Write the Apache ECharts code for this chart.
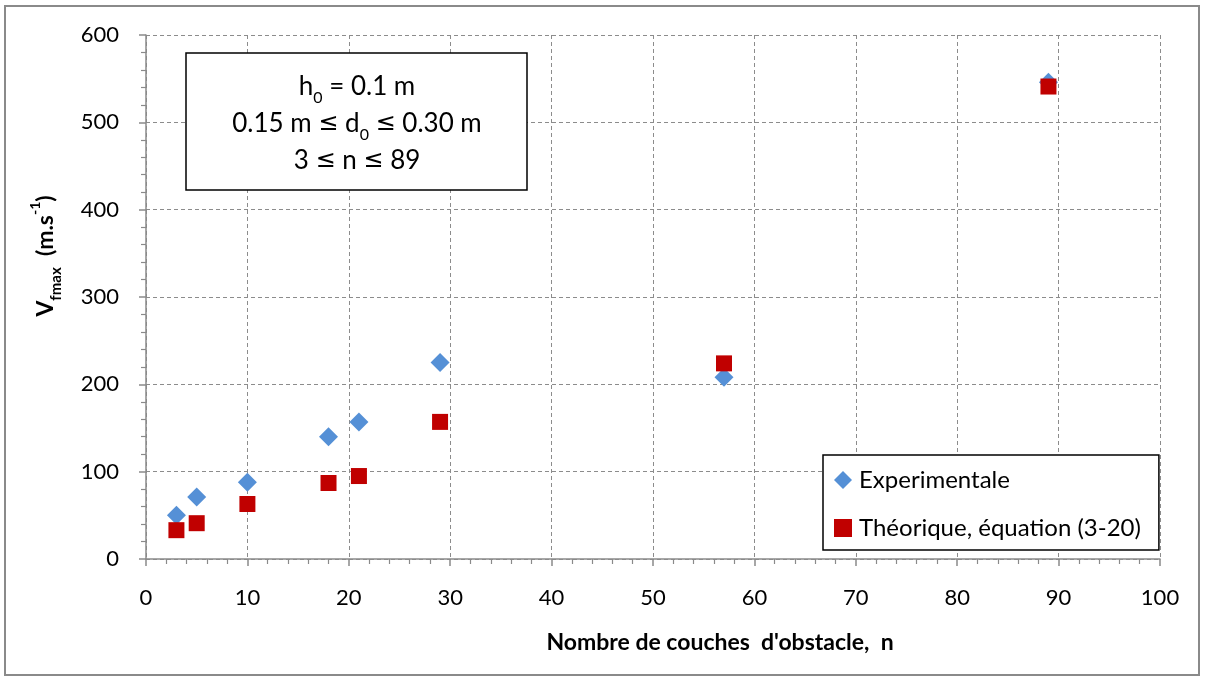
<!DOCTYPE html>
<html>
<head>
<meta charset="utf-8">
<script src="https://cdn.jsdelivr.net/npm/echarts@6/dist/echarts.min.js"></script>
<style>
  html, body { margin: 0; padding: 0; background: #fff; }
  #chart { width: 1205px; height: 680px; }
</style>
</head>
<body>
<div id="chart"></div>
<script>
// Number of obstacle layers n and maximum flame speed values
const layersN = [3, 5, 10, 18, 21, 29, 57, 89];
const experimental = [50, 71, 88, 140, 157, 225, 208, 546];
const theoretical = [33, 41, 63, 87, 95, 157, 224, 541];
const seriesNames = ['Experimentale', 'Théorique, équation (3-20)'];
const xTicks = { min: 0, max: 100, step: 10 };
const yTicks = { min: 0, max: 600, step: 100 };

const FONT = 'Lato, "Open Sans", sans-serif';
const GRID = { left: 146, top: 35, width: 1014, height: 524 };

const chart = echarts.init(document.getElementById('chart'), null, { renderer: 'canvas' });

const pairs = (ys) => layersN.map((x, i) => [x, ys[i]]);

const axisCommon = {
  axisLine: { show: true, onZero: false, lineStyle: { color: '#8a8a8a', width: 1.5 } },
  axisTick: { show: true, length: 7, lineStyle: { color: '#8a8a8a', width: 1.5 } },
  minorTick: { show: true, splitNumber: 5, length: 5, lineStyle: { color: '#8a8a8a', width: 1.2 } },
  splitLine: { show: true, lineStyle: { color: '#8c8c8c', width: 1, type: [4, 3] } },
  axisLabel: { color: '#000', fontFamily: FONT, fontSize: 22 }
};

// rich-text styles for the parameter box
const boxRich = {
  m: { fontSize: 26, lineHeight: 37, fontFamily: FONT, fill: '#000' },
  le: { fontSize: 24, lineHeight: 37, fontFamily: '"DejaVu Sans", sans-serif', fill: '#000' },
  s: { fontSize: 16, lineHeight: 16, verticalAlign: 'bottom', fontFamily: FONT, fill: '#000' }
};

chart.setOption({
  animation: false,
  backgroundColor: '#fff',
  grid: GRID,
  xAxis: Object.assign({}, axisCommon, {
    type: 'value', min: xTicks.min, max: xTicks.max, interval: xTicks.step,
    axisLabel: Object.assign({}, axisCommon.axisLabel, { margin: 28 })
  }),
  yAxis: Object.assign({}, axisCommon, {
    type: 'value', min: yTicks.min, max: yTicks.max, interval: yTicks.step,
    axisLabel: Object.assign({}, axisCommon.axisLabel, { margin: 27 })
  }),
  legend: {
    orient: 'vertical',
    left: 823, top: 455,
    padding: [13, 18, 10, 11],
    itemGap: 24,
    itemWidth: 18, itemHeight: 18,
    borderColor: '#000', borderWidth: 1.5,
    backgroundColor: '#fff',
    textStyle: { color: '#000', fontFamily: FONT, fontSize: 24, padding: [0, 0, 0, 2] },
    data: [
      { name: seriesNames[0], icon: 'diamond' },
      { name: seriesNames[1], icon: 'rect' }
    ]
  },
  series: [
    {
      name: seriesNames[0], type: 'scatter', symbol: 'diamond', symbolSize: 19,
      itemStyle: { color: '#5590d6', opacity: 1 }, data: pairs(experimental), z: 3
    },
    {
      name: seriesNames[1], type: 'scatter', symbol: 'rect', symbolSize: 16,
      itemStyle: { color: '#c00000', opacity: 1 }, data: pairs(theoretical), z: 4
    }
  ],
  graphic: [
    // outer frame
    {
      type: 'rect', shape: { x: 5, y: 6, width: 1194, height: 669 },
      style: { fill: 'none', stroke: '#8a8a8a', lineWidth: 2 }, silent: true, z: 0
    },
    // parameter box
    {
      type: 'rect', shape: { x: 186, y: 53, width: 341, height: 137 },
      style: { fill: '#fff', stroke: '#000', lineWidth: 1.5 }, z: 10
    },
    {
      type: 'text', x: 357, y: 124, z: 11,
      style: {
        text: '{m|h}{s|0}{m| = 0.1 m}\n{m|0.15 m }{le|≤}{m| d}{s|0}{m| }{le|≤}{m| 0.30 m}\n{m|3 }{le|≤}{m| n }{le|≤}{m| 89}',
        align: 'center', verticalAlign: 'middle',
        fill: '#000', fontFamily: FONT,
        rich: boxRich
      }
    },
    // y axis title
    {
      type: 'text', x: 46, y: 256, rotation: Math.PI / 2, z: 11,
      style: {
        text: '{b|V}{s|fmax}{b|  (m.s}{p|-1}{b|)}',
        align: 'center', verticalAlign: 'middle',
        rich: {
          b: { fontSize: 23, fontWeight: 'bold', lineHeight: 36, fontFamily: FONT, fill: '#000' },
          s: { fontSize: 15, fontWeight: 'bold', lineHeight: 22, verticalAlign: 'bottom', fontFamily: FONT, fill: '#000' },
          p: { fontSize: 14, fontWeight: 'bold', lineHeight: 26, verticalAlign: 'top', fontFamily: FONT, fill: '#000' }
        }
      }
    },
    // x axis title
    {
      type: 'text', x: 720, y: 643, z: 11,
      style: {
        text: "Nombre de couches  d'obstacle,  n",
        align: 'center', verticalAlign: 'middle',
        fontSize: 23, fontWeight: 'bold', fontFamily: FONT, fill: '#000'
      }
    }
  ]
});
</script>
</body>
</html>
